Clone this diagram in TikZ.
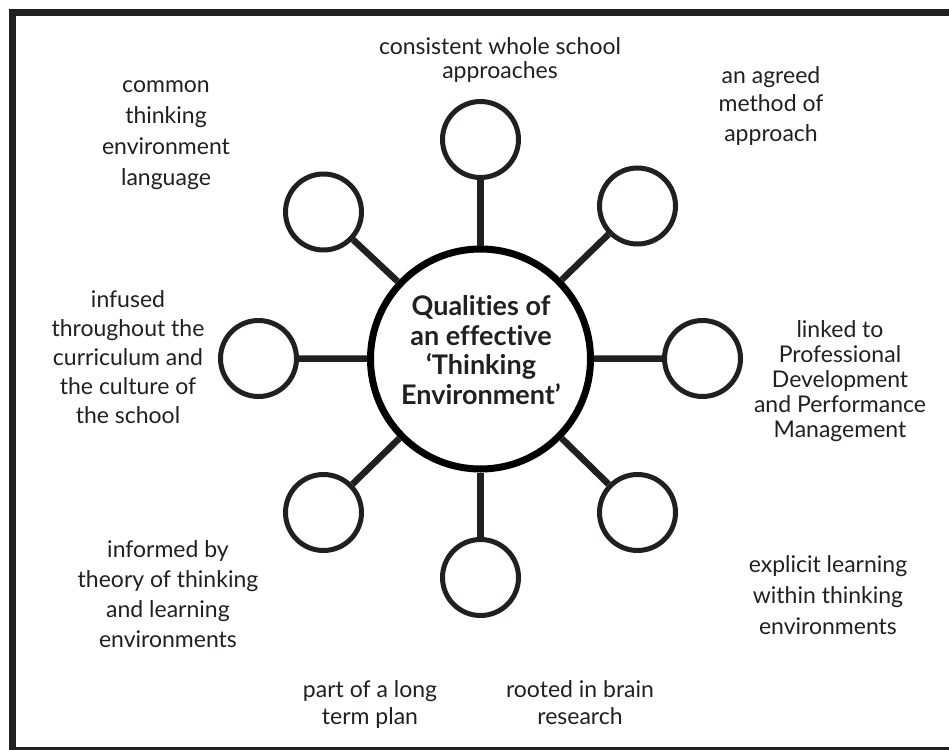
\documentclass[tikz,border=0pt]{standalone}
\usepackage{fontspec}
\setmainfont{Lato}[Ligatures=NoCommon]
\definecolor{ink}{HTML}{231F20}
\begin{document}
\begin{tikzpicture}[x=1pt,y=-1pt,
  small/.style={circle,draw=ink,line width=5pt,minimum size=76pt,inner sep=0pt},
  hub/.style={circle,draw=black,line width=7pt,minimum size=220pt,inner sep=0pt},
  hubtext/.style={align=center,inner sep=0pt,font=\bfseries\fontsize{27}{29.5}\selectfont,text=ink},
  link/.style={draw=ink,line width=6.5pt},
  lbl/.style={align=center,inner sep=0pt,anchor=base,text=ink,font=\fontsize{23}{#1}\selectfont}]
\useasboundingbox (0,0) rectangle (949,749);
\clip (0,0) rectangle (949,749);
\draw[ink,line width=7pt] (12.5,12.5) rectangle (958,750.5);
\node[hub] (c) at (480.5,359) {};
\node[hubtext] (ct) at (481,350) {Qualities of\\an effective\\‘Thinking\\Environment’};
\node[small] (n) at (480.5,139.5) {};
\node[small] (ne) at (637.5,206) {};
\node[small] (e) at (702.5,358.5) {};
\node[small] (se) at (637.5,512.5) {};
\node[small] (s) at (480.5,577.5) {};
\node[small] (sw) at (323.5,512.5) {};
\node[small] (w) at (258.5,358.5) {};
\node[small] (nw) at (323.5,212) {};
\foreach \k in {n,ne,e,se,s,sw,w,nw} \draw[link] (c) -- (\k);
% y = baseline of last line
\node[lbl=24] (t1) at (500,79) {consistent whole school\\approaches};
\node[lbl=29] (t2) at (771,141) {an agreed\\method of\\approach};
\node[lbl=31] (t3) at (166,185) {common\\thinking\\environment\\language};
\node[lbl=29] (t4) at (128,423) {infused\\throughout the\\curriculum and\\the culture of\\the school};
\node[lbl=25] (t5) at (840,437) {linked to\\Professional\\Development\\and Performance\\Management};
\node[lbl=30] (t6) at (168,647) {informed by\\theory of thinking\\and learning\\environments};
\node[lbl=31] (t7) at (828,634) {explicit learning\\within thinking\\environments};
\node[lbl=27] (t8) at (370,724) {part of a long\\term plan};
\node[lbl=27] (t9) at (580,724) {rooted in brain\\research};
\end{tikzpicture}
\end{document}
